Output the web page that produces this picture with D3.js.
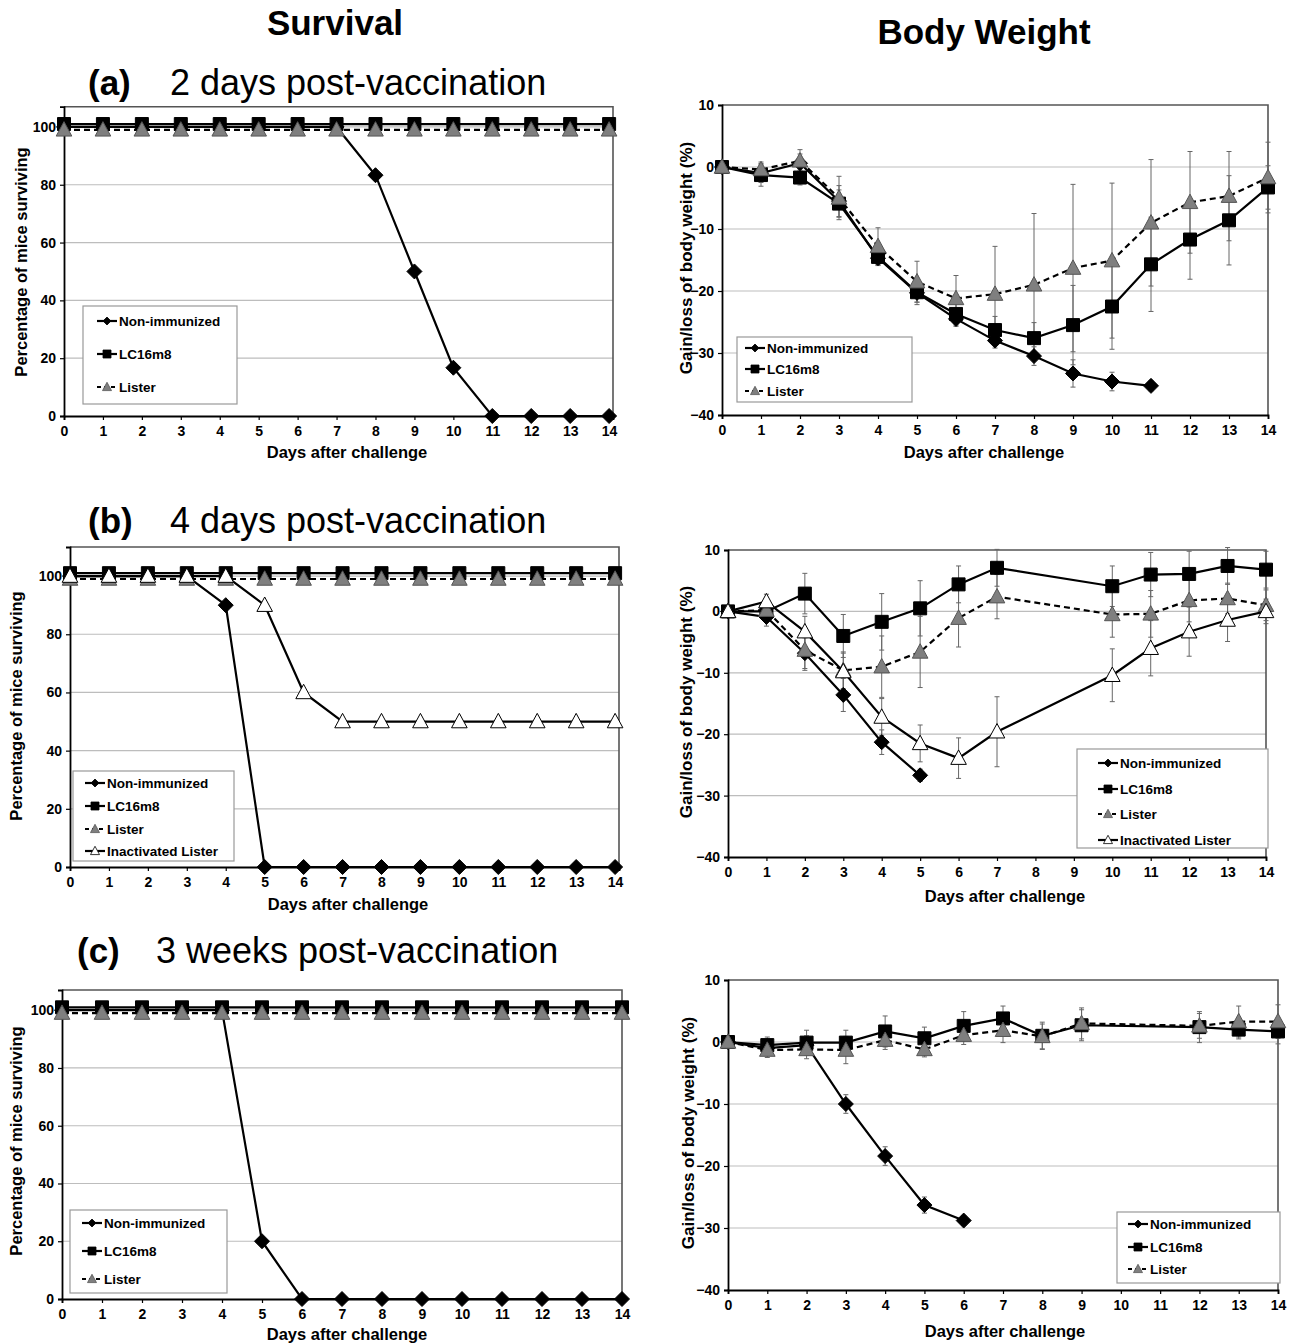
<!DOCTYPE html>
<html>
<head>
<meta charset="utf-8">
<script src="https://cdn.jsdelivr.net/npm/d3@7"></script>
<style>
  body { margin: 0; background: #fff; }
  text { font-family: 'Liberation Sans', Arial, sans-serif; }
</style>
</head>
<body>
<div id="chart"></div>
<script>
// ---- data ----
var days = [0, 1, 2, 3, 4, 5, 6, 7, 8, 9, 10, 11, 12, 13, 14];
var survTicks = [0, 20, 40, 60, 80, 100];
var weightTicks = [-40, -30, -20, -10, 0, 10];

// (a) 2 days post-vaccination
var survA_non = [100, 100, 100, 100, 100, 100, 100, 100, 83.3, 50, 16.7, 0, 0, 0, 0];
var survA_lc  = [101, 101, 101, 101, 101, 101, 101, 101, 101, 101, 101, 101, 101, 101, 101];
var survA_lis = [99, 99, 99, 99, 99, 99, 99, 99, 99, 99, 99, 99, 99, 99, 99];

var bwA_daysNon = [0, 1, 2, 3, 4, 5, 6, 7, 8, 9, 10, 11];
var bwA_non   = [0, -1.0, 0.6, -5.5, -14.7, -20.3, -24.5, -28.0, -30.5, -33.3, -34.6, -35.3];
var bwA_nonSd = [0, 1.5, 1.5, 2.5, 1.2, 1.5, 1.2, 1.2, 1.5, 2.2, 1.5, 0.8];
var bwA_lc    = [0, -1.3, -1.7, -5.9, -14.5, -20.2, -23.7, -26.3, -27.6, -25.5, -22.5, -15.7, -11.7, -8.6, -3.3];
var bwA_lcSd  = [0, 1.8, 1.2, 2.2, 1.2, 2.0, 1.8, 2.2, 2.5, 6.4, 6.9, 7.6, 6.4, 7.2, 3.5];
var bwA_lis   = [0, -0.4, 1.0, -5.0, -12.8, -18.5, -21.2, -20.5, -19.0, -16.3, -15.1, -9.0, -5.7, -4.7, -1.7];
var bwA_lisSd = [0, 1.2, 1.8, 3.5, 3.0, 3.3, 3.7, 7.7, 11.5, 13.5, 12.5, 10.2, 8.2, 7.2, 5.7];

// (b) 4 days post-vaccination
var survB_non = [100, 100, 100, 100, 90, 0, 0, 0, 0, 0, 0, 0, 0, 0, 0];
var survB_lc  = [101, 101, 101, 101, 101, 101, 101, 101, 101, 101, 101, 101, 101, 101, 101];
var survB_lis = [99, 99, 99, 99, 99, 99, 99, 99, 99, 99, 99, 99, 99, 99, 99];
var survB_ina = [100, 100, 100, 100, 100, 90, 60, 50, 50, 50, 50, 50, 50, 50, 50];

var bwB_daysNon = [0, 1, 2, 3, 4, 5];
var bwB_days  = [0, 1, 2, 3, 4, 5, 6, 7, 10, 11, 12, 13, 14];
var bwB_non   = [0, -0.9, -6.8, -13.6, -21.3, -26.7];
var bwB_nonSd = [0, 1.5, 2.5, 2.7, 2.0, 1.0];
var bwB_lc    = [0, 0, 2.9, -4.0, -1.7, 0.5, 4.4, 7.1, 4.1, 6.0, 6.1, 7.4, 6.8];
var bwB_lcSd  = [0, 1.5, 3.3, 3.5, 4.6, 4.5, 3.0, 3.0, 3.3, 3.6, 3.7, 3.0, 3.0];
var bwB_lis   = [0, 0.2, -6.3, -9.6, -9.0, -6.6, -1.1, 2.4, -0.5, -0.4, 1.8, 2.1, 1.0];
var bwB_lisSd = [0, 1.5, 3.3, 3.0, 5.0, 5.8, 4.7, 3.6, 3.7, 3.8, 3.5, 2.5, 2.5];
var bwB_ina   = [0, 1.6, -3.3, -9.8, -17.2, -21.5, -23.9, -19.6, -10.4, -6.0, -3.3, -1.4, 0];
var bwB_inaSd = [0, 1.2, 2.5, 3.0, 3.0, 3.0, 3.3, 5.7, 4.3, 4.5, 4.0, 3.5, 2.0];

// (c) 3 weeks post-vaccination
var survC_non = [100, 100, 100, 100, 100, 20, 0, 0, 0, 0, 0, 0, 0, 0, 0];
var survC_lc  = [101, 101, 101, 101, 101, 101, 101, 101, 101, 101, 101, 101, 101, 101, 101];
var survC_lis = [99, 99, 99, 99, 99, 99, 99, 99, 99, 99, 99, 99, 99, 99, 99];

var bwC_daysNon = [0, 1, 2, 3, 4, 5, 6];
var bwC_days  = [0, 1, 2, 3, 4, 5, 6, 7, 8, 9, 12, 13, 14];
var bwC_non   = [0, -1.0, -0.5, -10.0, -18.4, -26.3, -28.8];
var bwC_nonSd = [0, 1.2, 1.5, 1.5, 1.5, 1.3, 0.8];
var bwC_lc    = [0, -0.5, -0.1, -0.1, 1.7, 0.6, 2.6, 3.8, 1.0, 2.7, 2.4, 2.0, 1.7];
var bwC_lcSd  = [0, 1.3, 2.0, 2.0, 2.5, 1.8, 2.3, 2.0, 2.2, 2.5, 2.5, 1.5, 2.0];
var bwC_lis   = [0, -1.3, -1.2, -1.3, 0.3, -1.2, 1.1, 1.9, 0.9, 3.0, 2.6, 3.3, 3.3];
var bwC_lisSd = [0, 1.2, 1.5, 2.2, 1.5, 1.2, 1.5, 2.0, 2.0, 2.5, 2.0, 2.5, 2.7];

// ---- styles per group ----
var styles = {
  "Non-immunized":      { marker: "diamond",  fill: "#000",    stroke: "#000",    dash: null },
  "LC16m8":             { marker: "square",   fill: "#000",    stroke: "#000",    dash: null },
  "Lister":             { marker: "triangle", fill: "#7f7f7f", stroke: "#555",    dash: "6,4" },
  "Inactivated Lister": { marker: "triangle", fill: "#fff",    stroke: "#000",    dash: null }
};

function markerPath(type, s) {
  if (type === "diamond") return "M0," + (-s) + "L" + s + ",0L0," + s + "L" + (-s) + ",0Z";
  if (type === "square") return "M" + (-s) + "," + (-s) + "H" + s + "V" + s + "H" + (-s) + "Z";
  return "M0," + (-s * 1.05) + "L" + s + "," + (s * 0.8) + "L" + (-s) + "," + (s * 0.8) + "Z";
}
var markerSize = { diamond: 7.5, square: 6.5, triangle: 7.8 };

function ser(label, d, v, sd) { return { label: label, days: d, vals: v, sd: sd }; }

var panels = [
  { kind: "surv", left: 64, right: 613, xEnd: 14.1, top: 106.7, bottom: 416, yMax: 107,
    series: [ser("Non-immunized", days, survA_non), ser("LC16m8", days, survA_lc), ser("Lister", days, survA_lis)],
    legend: { x: 83, y: 306, w: 154, h: 98, rows: [321, 354, 387], sx: 97, tx: 119 },
    xTitle: [347, 458], yTitle: [21, 262] },
  { kind: "bw", left: 722, right: 1268, xEnd: 14, top: 105, bottom: 415,
    series: [ser("Non-immunized", bwA_daysNon, bwA_non, bwA_nonSd), ser("LC16m8", days, bwA_lc, bwA_lcSd), ser("Lister", days, bwA_lis, bwA_lisSd)],
    legend: { x: 737, y: 337, w: 175, h: 65, rows: [348, 369, 391], sx: 745, tx: 767 },
    xTitle: [984, 458], yTitle: [686, 258] },
  { kind: "surv", left: 70, right: 619, xEnd: 14.1, top: 547, bottom: 867, yMax: 110,
    series: [ser("Non-immunized", days, survB_non), ser("LC16m8", days, survB_lc), ser("Lister", days, survB_lis), ser("Inactivated Lister", days, survB_ina)],
    legend: { x: 73, y: 771, w: 161, h: 90, rows: [783, 806, 829, 851], sx: 85, tx: 107 },
    xTitle: [348, 910], yTitle: [16, 706] },
  { kind: "bw", left: 728, right: 1266, xEnd: 14, top: 550, bottom: 857,
    series: [ser("Non-immunized", bwB_daysNon, bwB_non, bwB_nonSd), ser("LC16m8", bwB_days, bwB_lc, bwB_lcSd), ser("Lister", bwB_days, bwB_lis, bwB_lisSd), ser("Inactivated Lister", bwB_days, bwB_ina, bwB_inaSd)],
    legend: { x: 1077, y: 749, w: 191, h: 99, rows: [763, 789, 814, 840], sx: 1098, tx: 1120 },
    xTitle: [1005, 902], yTitle: [686, 702] },
  { kind: "surv", left: 62, right: 622, xEnd: 14, top: 990, bottom: 1299, yMax: 107,
    series: [ser("Non-immunized", days, survC_non), ser("LC16m8", days, survC_lc), ser("Lister", days, survC_lis)],
    legend: { x: 70, y: 1210, w: 157, h: 83, rows: [1223, 1251, 1279], sx: 82, tx: 104 },
    xTitle: [347, 1340], yTitle: [16, 1141] },
  { kind: "bw", left: 728, right: 1278, xEnd: 14, top: 980, bottom: 1290,
    series: [ser("Non-immunized", bwC_daysNon, bwC_non, bwC_nonSd), ser("LC16m8", bwC_days, bwC_lc, bwC_lcSd), ser("Lister", bwC_days, bwC_lis, bwC_lisSd)],
    legend: { x: 1117, y: 1212, w: 163, h: 71, rows: [1224, 1247, 1269], sx: 1128, tx: 1150 },
    xTitle: [1005, 1337], yTitle: [688, 1133] }
];

var svg = d3.select("#chart").append("svg")
  .attr("width", 1295).attr("height", 1343)
  .style("background", "#fff");

// headers
svg.append("text").attr("x", 335).attr("y", 35).attr("text-anchor", "middle")
  .attr("font-size", 35).attr("font-weight", "bold").text("Survival");
svg.append("text").attr("x", 984).attr("y", 44).attr("text-anchor", "middle")
  .attr("font-size", 35).attr("font-weight", "bold").text("Body Weight");

var subtitles = [
  { tag: "(a)", text: "2 days post-vaccination", x: 88, tx: 170, y: 95 },
  { tag: "(b)", text: "4 days post-vaccination", x: 88, tx: 170, y: 533 },
  { tag: "(c)", text: "3 weeks post-vaccination", x: 77, tx: 156, y: 963 }
];
subtitles.forEach(function (s) {
  svg.append("text").attr("x", s.x).attr("y", s.y).attr("font-size", 35)
    .attr("font-weight", "bold").text(s.tag);
  svg.append("text").attr("x", s.tx).attr("y", s.y).attr("font-size", 36).text(s.text);
});

function drawPanel(p) {
  var x = d3.scaleLinear().domain([0, p.xEnd]).range([p.left, p.right]);
  var yDom = p.kind === "surv" ? [0, p.yMax] : [-40, 10];
  var y = d3.scaleLinear().domain(yDom).range([p.bottom, p.top]);
  var g = svg.append("g");

  // gridlines
  var grid = p.kind === "surv" ? [20, 40, 60, 80, 100] : [-30, -20, -10, 0];
  g.selectAll(".grid").data(grid).enter().append("line")
    .attr("x1", x(0)).attr("x2", x(p.xEnd))
    .attr("y1", function (d) { return y(d); }).attr("y2", function (d) { return y(d); })
    .attr("stroke", "#bdbdbd").attr("stroke-width", 1.2);

  // frame (top + right)
  g.append("path")
    .attr("d", "M" + x(0) + "," + y(yDom[1]) + "H" + x(p.xEnd) + "V" + y(yDom[0]))
    .attr("fill", "none").attr("stroke", "#555").attr("stroke-width", 1.6);

  // axes
  var xa = g.append("g").attr("transform", "translate(0," + y(yDom[0]) + ")")
    .call(d3.axisBottom(x).tickValues(days).tickFormat(d3.format("d")).tickSize(4).tickPadding(6));
  var ya = g.append("g").attr("transform", "translate(" + x(0) + ",0)")
    .call(d3.axisLeft(y).tickValues(p.kind === "surv" ? survTicks : weightTicks).tickSize(4).tickPadding(4));
  [xa, ya].forEach(function (a) {
    a.select(".domain").attr("stroke", "#000").attr("stroke-width", 1.8);
    a.selectAll(".tick line").attr("stroke", "#000").attr("stroke-width", 1.2);
    a.selectAll(".tick text").attr("font-size", 14).attr("font-weight", "bold")
      .attr("font-family", "'Liberation Sans', Arial, sans-serif").attr("fill", "#000");
  });

  // error bars
  p.series.forEach(function (s) {
    if (!s.sd) return;
    var pts = s.days.map(function (d, i) { return { d: d, v: s.vals[i], e: s.sd[i] }; })
      .filter(function (o) { return o.e > 0; });
    var eg = g.append("g").attr("stroke", "#666").attr("stroke-width", 1);
    eg.selectAll(".eb").data(pts).enter().append("line")
      .attr("x1", function (o) { return x(o.d); }).attr("x2", function (o) { return x(o.d); })
      .attr("y1", function (o) { return y(o.v - o.e); }).attr("y2", function (o) { return y(o.v + o.e); });
    eg.selectAll(".capT").data(pts).enter().append("line")
      .attr("x1", function (o) { return x(o.d) - 2.5; }).attr("x2", function (o) { return x(o.d) + 2.5; })
      .attr("y1", function (o) { return y(o.v + o.e); }).attr("y2", function (o) { return y(o.v + o.e); });
    eg.selectAll(".capB").data(pts).enter().append("line")
      .attr("x1", function (o) { return x(o.d) - 2.5; }).attr("x2", function (o) { return x(o.d) + 2.5; })
      .attr("y1", function (o) { return y(o.v - o.e); }).attr("y2", function (o) { return y(o.v - o.e); });
  });

  // lines + markers
  var line = d3.line().x(function (o) { return x(o[0]); }).y(function (o) { return y(o[1]); });
  p.series.forEach(function (s) {
    var st = styles[s.label];
    var pts = s.days.map(function (d, i) { return [d, s.vals[i]]; });
    g.append("path").datum(pts).attr("d", line)
      .attr("fill", "none").attr("stroke", "#000").attr("stroke-width", 2.2)
      .attr("stroke-dasharray", st.dash);
    g.selectAll(".m").data(pts).enter().append("path")
      .attr("transform", function (o) { return "translate(" + x(o[0]) + "," + y(o[1]) + ")"; })
      .attr("d", markerPath(st.marker, markerSize[st.marker]))
      .attr("fill", st.fill).attr("stroke", st.stroke).attr("stroke-width", 1);
  });

  // legend
  var L = p.legend;
  g.append("rect").attr("x", L.x).attr("y", L.y).attr("width", L.w).attr("height", L.h)
    .attr("fill", "#fff").attr("stroke", "#999").attr("stroke-width", 1.2);
  p.series.forEach(function (s, i) {
    var st = styles[s.label];
    var ry = L.rows[i];
    g.append("line").attr("x1", L.sx).attr("x2", L.sx + 20).attr("y1", ry).attr("y2", ry)
      .attr("stroke", "#000").attr("stroke-width", 2.2).attr("stroke-dasharray", st.dash ? "4,3" : null);
    var ms = st.marker === "triangle" ? 4.5 : 4;
    g.append("path").attr("transform", "translate(" + (L.sx + 10) + "," + ry + ")")
      .attr("d", markerPath(st.marker, ms))
      .attr("fill", st.fill).attr("stroke", st.stroke).attr("stroke-width", 0.8);
    g.append("text").attr("x", L.tx).attr("y", ry + 5).attr("font-size", 13.5)
      .attr("font-weight", "bold").text(s.label);
  });

  // axis titles
  g.append("text").attr("x", p.xTitle[0]).attr("y", p.xTitle[1]).attr("text-anchor", "middle")
    .attr("font-size", 16.5).attr("font-weight", "bold").text("Days after challenge");
  g.append("text")
    .attr("transform", "translate(" + p.yTitle[0] + "," + p.yTitle[1] + ") rotate(-90)")
    .attr("text-anchor", "middle").attr("dy", "0.35em")
    .attr("font-size", p.kind === "surv" ? 16.5 : 17).attr("font-weight", "bold")
    .text(p.kind === "surv" ? "Percentage of mice surviving" : "Gain/loss of body weight (%)");
}

panels.forEach(drawPanel);
</script>
</body>
</html>
